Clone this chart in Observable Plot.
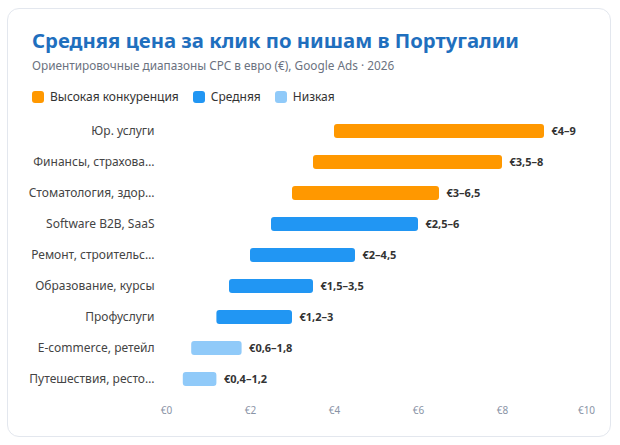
<!DOCTYPE html>
<html><head><meta charset="utf-8">
<script src="https://cdn.jsdelivr.net/npm/d3@7"></script>
<script src="https://cdn.jsdelivr.net/npm/@observablehq/plot@0.6"></script>
<style>
html,body{margin:0;padding:0;background:#fff;width:620px;height:445px;overflow:hidden;font-family:"Noto Sans",sans-serif;}
#card{position:absolute;left:7px;top:8px;width:602px;height:427px;border:1px solid #e3e7ee;border-radius:12px;background:#fff;}
#title{position:absolute;left:32px;top:26px;font-size:20.3px;font-weight:700;color:#1f6fbe;white-space:nowrap;}
#sub{position:absolute;left:32px;top:57px;font-size:11.8px;color:#6b7280;white-space:nowrap;}
#legend{position:absolute;left:32px;top:88px;display:flex;gap:14px;font-size:12px;color:#333;}
.li{display:flex;align-items:center;gap:6px;}
.sw{width:12px;height:12px;border-radius:3px;display:inline-block;}
#chart{position:absolute;left:0;top:100px;}
</style></head>
<body>
<div id="card"></div>
<div id="title">Средняя цена за клик по нишам в Португалии</div>
<div id="sub">Ориентировочные диапазоны CPC в евро (€), Google Ads · 2026</div>
<div id="legend"></div>
<div id="chart"></div>
<script>
const categories = ["Юр. услуги","Финансы, страхование","Стоматология, здоровье","Software B2B, SaaS","Ремонт, строительство","Образование, курсы","Профуслуги","E-commerce, ретейл","Путешествия, рестораны"];
const lows = [4, 3.5, 3, 2.5, 2, 1.5, 1.2, 0.6, 0.4];
const highs = [9, 8, 6.5, 6, 4.5, 3.5, 3, 1.8, 1.2];
const levels = ["Высокая конкуренция","Высокая конкуренция","Высокая конкуренция","Средняя","Средняя","Средняя","Средняя","Низкая","Низкая"];
const levelNames = ["Высокая конкуренция","Средняя","Низкая"];
const levelColors = ["#ff9800","#2196f3","#90caf9"];
const xTicks = [0,2,4,6,8,10];

const fmt = v => String(v).replace(".", ",");
const data = categories.map((c,i)=>({cat:c, lo:lows[i], hi:highs[i], level:levels[i], label:"€"+fmt(lows[i])+"–"+fmt(highs[i])}));

const ctx = document.createElement("canvas").getContext("2d");
ctx.font = "12px 'Noto Sans'";
function trunc(s, max){
  if (ctx.measureText(s).width <= max) return s;
  let t = s;
  while (t.length && ctx.measureText(t + "…").width > max) t = t.slice(0,-1);
  return t + "…";
}

const leg = document.getElementById("legend");
levelNames.forEach((n,i)=>{
  const d = document.createElement("div"); d.className="li";
  d.innerHTML = `<span class="sw" style="background:${levelColors[i]}"></span><span>${n}</span>`;
  leg.appendChild(d);
});

const grid = [];
xTicks.forEach(t => categories.forEach(c => grid.push({x:t, cat:c})));

const chart = Plot.plot({
  width: 620, height: 326,
  marginLeft: 166, marginRight: 34, marginTop: 9, marginBottom: 25,
  style: {fontFamily: "'Noto Sans', sans-serif", background: "transparent"},
  x: {domain: [0,10], ticks: xTicks, tickFormat: d => "€"+d},
  y: {domain: categories, padding: 0.24},
  color: {domain: levelNames, range: levelColors},
  marks: [
    Plot.ruleX(grid, {x: "x", y: "cat", stroke: "#e2e7ef", strokeWidth: 1}),
    Plot.barX(data, {x1: "lo", x2: "hi", y: "cat", fill: "level", insetTop: 5, insetBottom: 5, rx: 3}),
    Plot.text(data, {x: "hi", y: "cat", text: "label", dx: 7, textAnchor: "start", fontWeight: 700, fontSize: 11, fill: "#333"}),
    Plot.axisY({tickSize: 0, tickPadding: 12, fontSize: 12, color: "#444", label: null, tickFormat: d => trunc(d, 126)}),
    Plot.axisX({tickSize: 0, tickPadding: 5, fontSize: 10, color: "#8a94a6", label: null, ticks: xTicks, tickFormat: d => "€"+d})
  ]
});
document.getElementById("chart").appendChild(chart);
</script>
</body></html>
